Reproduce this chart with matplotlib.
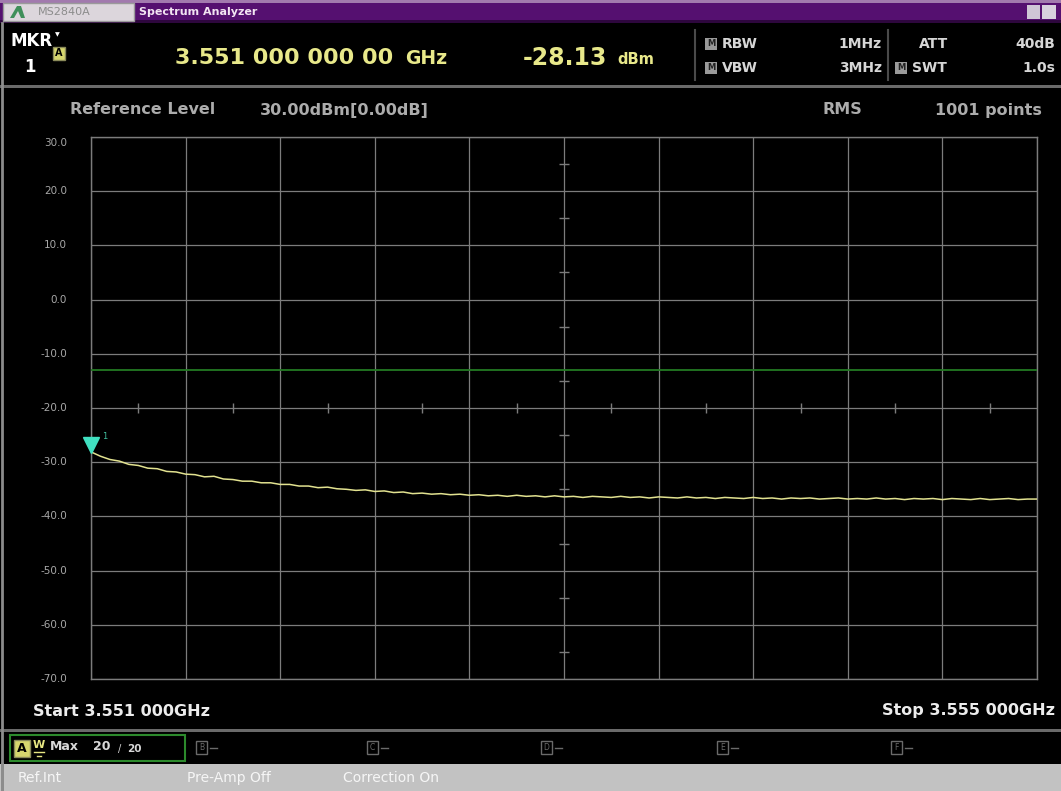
import numpy as np
import matplotlib
matplotlib.use("Agg")
import matplotlib.pyplot as plt
from matplotlib.patches import Rectangle, Polygon
from matplotlib.transforms import ScaledTranslation

# ---------------- data ----------------
start_ghz = 3.551
stop_ghz = 3.555
y_ticks = [30.0, 20.0, 10.0, 0.0, -10.0, -20.0, -30.0, -40.0, -50.0, -60.0, -70.0]
limit_line_dbm = -13.0
marker_freq_ghz = 3.551
marker_level_dbm = -28.13
trace_dbm = [
    -28.1, -28.9, -29.5, -29.8, -30.4, -30.6, -31.1, -31.2, -31.7, -31.8,
    -32.2, -32.3, -32.7, -32.6, -33.1, -33.2, -33.5, -33.5, -33.8, -33.8,
    -34.1, -34.1, -34.4, -34.4, -34.7, -34.6, -34.9, -35.0, -35.2, -35.1,
    -35.4, -35.3, -35.6, -35.5, -35.8, -35.7, -35.9, -35.8, -36.0, -35.9,
    -36.1, -36.0, -36.2, -36.1, -36.3, -36.1, -36.3, -36.2, -36.4, -36.2,
    -36.4, -36.3, -36.5, -36.3, -36.4, -36.5, -36.3, -36.5, -36.4, -36.6,
    -36.4, -36.5, -36.6, -36.4, -36.6, -36.5, -36.7, -36.5, -36.6, -36.7,
    -36.5, -36.7, -36.6, -36.8, -36.6, -36.7, -36.6, -36.8, -36.7, -36.6,
    -36.8, -36.7, -36.8, -36.6, -36.8, -36.7, -36.9, -36.7, -36.8, -36.7,
    -36.9, -36.7, -36.8, -36.9, -36.7, -36.9, -36.8, -36.7, -36.9, -36.8, -36.8,
]
trace_freq = np.linspace(start_ghz, stop_ghz, len(trace_dbm))

W, H = 1061, 791
fig = plt.figure(figsize=(W / 100, H / 100), dpi=100, facecolor="black")

# background axes in pixel coordinates
bg = fig.add_axes([0, 0, 1, 1])
bg.set_xlim(0, W)
bg.set_ylim(H, 0)
bg.axis("off")
bg.set_facecolor("black")

FONT = "DejaVu Sans"

def rect(x, y, w, h, fc, ec="none", lw=0, z=1):
    bg.add_patch(Rectangle((x, y), w, h, facecolor=fc, edgecolor=ec, linewidth=lw, zorder=z))

def txt(x, y, s, size, color, weight="normal", ha="left", va="center", z=5, family=FONT):
    bg.text(x, y, s, fontsize=size, color=color, fontweight=weight, ha=ha, va=va,
            zorder=z, family=family)

# title bar
rect(0, 0, W, 23, "#551070")
rect(0, 0, W, 3, "#a27aae")
rect(0, 20, W, 3, "#2e073e")
rect(3, 3, 131, 18, "#dcd6dc", ec="#9a9a9a", lw=1, z=2)
bg.add_patch(Polygon([[10, 18], [17, 6], [21, 6], [25, 18], [21, 18], [18, 11], [14, 18]],
                     closed=True, facecolor="#3f8f5a", edgecolor="none", zorder=3))
txt(38, 12, "MS2840A", 8, "#8c8c8c")
txt(139, 12, "Spectrum Analyzer", 8, "#f2e4f2", weight="bold")
rect(1027, 5, 13, 14, "#cfc6d6", z=2)
rect(1042, 5, 14, 14, "#d8d0de", z=2)

# left border line
bg.plot([2, 2], [23, H], color="#8c8c8c", lw=2, zorder=2)

# header
txt(10, 41, "MKR", 12, "white", weight="bold")
txt(55, 35, "▼", 4.5, "white")
txt(30, 67, "1", 12, "white", weight="bold", ha="center")
rect(53, 47, 12, 13, "#d6d66e", ec="#8a8a5a", lw=1, z=3)
txt(59, 53.5, "A", 7, "black", weight="bold", ha="center")
txt(175, 58, "3.551 000 000 00", 16, "#e8e88a", weight="bold")
txt(405, 59, "GHz", 13.5, "#e8e88a", weight="bold")
txt(523, 58, "-28.13", 17, "#e8e88a", weight="bold")
txt(617, 60, "dBm", 10.5, "#e8e88a", weight="bold")
bg.plot([695, 695], [30, 80], color="#4a4a4a", lw=1.5)
bg.plot([888, 888], [30, 80], color="#4a4a4a", lw=1.5)
for yy in (44, 68):
    rect(705, yy - 6, 12, 12, "#9a9a9a", z=3)
    txt(711, yy, "M", 6, "#202020", weight="bold", ha="center")
rect(895, 62, 12, 12, "#9a9a9a", z=3)
txt(901, 68, "M", 6, "#202020", weight="bold", ha="center")
lab = "#d6d6d6"
hs = 10
txt(722, 44, "RBW", hs, lab, weight="bold")
txt(722, 68, "VBW", hs, lab, weight="bold")
txt(882, 44, "1MHz", hs, lab, weight="bold", ha="right")
txt(882, 68, "3MHz", hs, lab, weight="bold", ha="right")
txt(934, 44, "ATT", hs, lab, weight="bold", ha="center")
txt(912, 68, "SWT", hs, lab, weight="bold")
txt(1055, 44, "40dB", hs, lab, weight="bold", ha="right")
txt(1055, 68, "1.0s", hs, lab, weight="bold", ha="right")
rect(0, 85, W, 3, "#6a6a6a")

# info row
info = "#acacac"
isz = 11.5
txt(70, 110, "Reference Level", isz, info, weight="bold")
txt(260, 110, "30.00dBm[0.00dB]", isz, info, weight="bold")
txt(822, 110, "RMS", isz, info, weight="bold")
txt(1042, 110, "1001 points", isz, info, weight="bold", ha="right")

# bottom
txt(33, 711, "Start 3.551 000GHz", 11.5, "#ececec", weight="bold")
txt(1055, 711, "Stop 3.555 000GHz", 11.5, "#ececec", weight="bold", ha="right")
rect(0, 729, W, 3, "#6a6a6a")
rect(10, 735, 175, 26, "none", ec="#2c8a2c", lw=1.5, z=3)
rect(14, 740, 16, 17, "#d6d66e", ec="#8a8a5a", lw=1, z=3)
txt(22, 748.5, "A", 9, "black", weight="bold", ha="center")
txt(39, 745, "W", 8, "#e6e682", weight="bold", ha="center")
bg.plot([34, 44], [752, 752], color="#e6e682", lw=1)
bg.plot([37, 41], [756, 756], color="#e6e682", lw=1)
txt(50, 747, "Max", 9, "#d8d8d8", weight="bold")
txt(93, 747, "20", 9, "#d8d8d8", weight="bold")
txt(118, 749, "/", 7, "#d8d8d8")
txt(127, 749, "20", 7.5, "#d8d8d8", weight="bold")
for xx, letter in [(196, "B"), (367, "C"), (541, "D"), (717, "E"), (891, "F")]:
    rect(xx, 741, 11, 13, "none", ec="#6a6a6a", lw=1, z=3)
    txt(xx + 5.5, 747.5, letter, 5.5, "#6a6a6a", ha="center")
    bg.plot([xx + 14, xx + 21], [747.5, 747.5], color="#6a6a6a", lw=1)
rect(0, 764, W, 27, "#c2c2c2")
bg.plot([2, 2], [764, H], color="#8c8c8c", lw=2, zorder=2)
txt(18, 778, "Ref.Int", 10, "#f6f6f6")
txt(187, 778, "Pre-Amp Off", 10, "#f6f6f6")
txt(343, 778, "Correction On", 10, "#f6f6f6")

# y labels
for v in y_ticks:
    ypx = 137 + (30.0 - v) / 100.0 * 542
    if v == 30.0:
        ypx += 6
    txt(67, ypx, f"{v:.1f}", 7.5, "#a8a8a8", ha="right")

# ---------------- plot axes ----------------
L, R, T, B = 91, 1037, 137, 679
ax = fig.add_axes([L / W, 1 - B / H, (R - L) / W, (B - T) / H])
ax.set_facecolor("black")
ax.set_xlim(start_ghz, stop_ghz)
ax.set_ylim(y_ticks[-1], y_ticks[0])
grid_c = "#7c7c7c"
for s in ax.spines.values():
    s.set_color(grid_c)
    s.set_linewidth(1)
ax.set_xticks(np.linspace(start_ghz, stop_ghz, 11))
ax.set_yticks(y_ticks)
ax.tick_params(length=0, labelleft=False, labelbottom=False)
ax.grid(True, color=grid_c, lw=0.9)

# centre graticule sub-ticks
xdiv = (stop_ghz - start_ghz) / 10
xc = (start_ghz + stop_ghz) / 2
mid_y = np.arange(y_ticks[0] - 5, y_ticks[-1], -10)
ax.plot(np.full_like(mid_y, xc), mid_y, ls="none", marker="_", ms=7, mew=1, color=grid_c)
mid_x = start_ghz + xdiv / 2 + xdiv * np.arange(10)
ax.plot(mid_x, np.full_like(mid_x, -20.0), ls="none", marker="|", ms=7, mew=1, color=grid_c)

ax.axhline(limit_line_dbm, color="#237a23", lw=1.3, zorder=3)
ax.plot(trace_freq, trace_dbm, color="#e2e290", lw=1.1, zorder=4)

# marker
off = ScaledTranslation(0, 7 / 100, fig.dpi_scale_trans)
ax.plot([marker_freq_ghz], [marker_level_dbm], marker="v", ms=11, color="#40e0c0",
        mec="#40e0c0", transform=ax.transData + off, clip_on=False, zorder=6)
off2 = ScaledTranslation(14 / 100, 16 / 100, fig.dpi_scale_trans)
ax.text(marker_freq_ghz, marker_level_dbm, "1", fontsize=6, color="#40c0a0",
        transform=ax.transData + off2, ha="center", va="center", zorder=6)

fig.savefig("out.png", dpi=100, facecolor="black")
